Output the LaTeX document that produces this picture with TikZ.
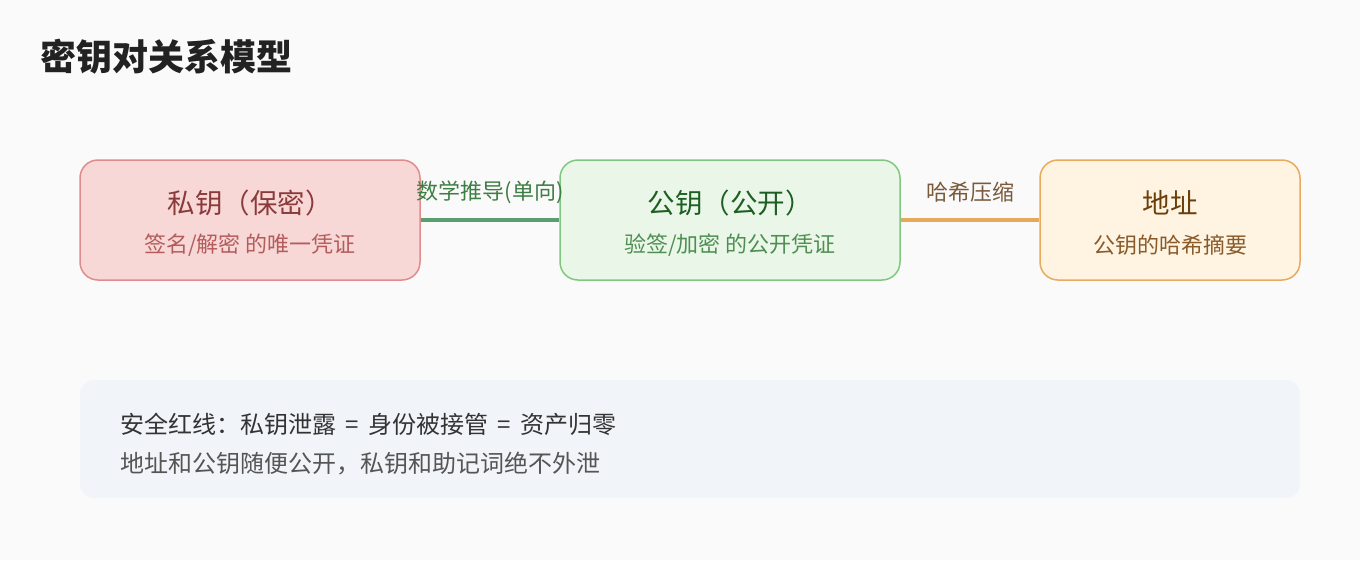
\documentclass[tikz,border=0pt]{standalone}
\usepackage{fontspec}
\setmainfont{Noto Sans CJK SC}
\usetikzlibrary{positioning}

\definecolor{pagebg}{HTML}{FAFAFA}
\definecolor{titlecol}{HTML}{222222}
\definecolor{privfill}{HTML}{F8D7D7}
\definecolor{privline}{HTML}{E08C8C}
\definecolor{privtext}{HTML}{8B3A3A}
\definecolor{privsub}{HTML}{B45C5C}
\definecolor{pubfill}{HTML}{EAF7E8}
\definecolor{publine}{HTML}{80C880}
\definecolor{pubtext}{HTML}{1E5E22}
\definecolor{pubsub}{HTML}{4E8E52}
\definecolor{addrfill}{HTML}{FFF4E2}
\definecolor{addrline}{HTML}{E8AA5E}
\definecolor{addrtext}{HTML}{6B3F0A}
\definecolor{addrsub}{HTML}{8A5A2A}
\definecolor{derivecol}{HTML}{5A9E6E}
\definecolor{hashcol}{HTML}{E8A85A}
\definecolor{derivelbl}{HTML}{3E7E44}
\definecolor{hashlbl}{HTML}{7A5A3A}
\definecolor{notefill}{HTML}{F1F4F9}
\definecolor{notetext}{HTML}{333333}
\definecolor{notesub}{HTML}{555555}

\tikzset{
  keybox/.style={draw, line width=1.5pt, rounded corners=18pt,
    minimum height=120pt, inner sep=0pt},
  boxtitle/.style={font=\fontsize{27.5}{32}\selectfont, inner sep=0pt},
  boxsub/.style={font=\fontsize{22}{26}\selectfont, inner sep=0pt},
  linklabel/.style={font=\fontsize{22}{26}\selectfont, inner sep=0pt},
  noteline/.style={font=\fontsize{24}{28}\selectfont, anchor=west, inner sep=0pt}
}

\begin{document}
\begin{tikzpicture}[x=1pt, y=-1pt]

  \fill[pagebg] (0,0) rectangle (1360,560);
  \useasboundingbox (0,0) rectangle (1360,560);

  \node[anchor=west, inner sep=0pt, text=titlecol,
    font=\fontsize{36}{42}\selectfont\bfseries] (title) at (40,57)
  {密钥对关系模型};

  % key boxes
  \node[keybox, fill=privfill, draw=privline, minimum width=340pt]
  (priv) at (250,220) {};
  \node[keybox, fill=pubfill, draw=publine, minimum width=340pt]
  (pub) at (730,220) {};
  \node[keybox, fill=addrfill, draw=addrline, minimum width=260pt]
  (addr) at (1170,220) {};

  \node[boxtitle, text=privtext] (privT) at ([yshift=17pt]priv.center)
  {私钥（保密）};
  \node[boxsub, text=privsub] (privS) at ([yshift=-25pt]priv.center)
  {签名/解密 的唯一凭证};
  \node[boxtitle, text=pubtext] (pubT) at ([yshift=17pt]pub.center)
  {公钥（公开）};
  \node[boxsub, text=pubsub] (pubS) at ([yshift=-25pt]pub.center)
  {验签/加密 的公开凭证};
  \node[boxtitle, text=addrtext] (addrT) at ([yshift=17pt]addr.center)
  {地址};
  \node[boxsub, text=addrsub] (addrS) at ([yshift=-25pt]addr.center)
  {公钥的哈希摘要};

  % links
  \draw[derivecol, line width=3.5pt] (priv) -- (pub)
  node[linklabel, text=derivelbl, midway, yshift=28pt] (deriveL)
  {数学推导(单向)};
  \draw[hashcol, line width=3.5pt] (pub) -- (addr)
  node[linklabel, text=hashlbl, midway, yshift=28pt] (hashL)
  {哈希压缩};

  % note panel
  \node[fill=notefill, rounded corners=14pt, minimum width=1220pt,
    minimum height=118pt, inner sep=0pt] (note) at (690,439) {};
  \node[noteline, text=notetext] (note1) at (120,424)
  {安全红线：私钥泄露\hspace{4pt} = \hspace{4pt}身份被接管\hspace{4pt} = \hspace{4pt}资产归零};
  \node[noteline, text=notesub] (note2) at (120,464)
  {地址和公钥随便公开，私钥和助记词绝不外泄};

\end{tikzpicture}
\end{document}
